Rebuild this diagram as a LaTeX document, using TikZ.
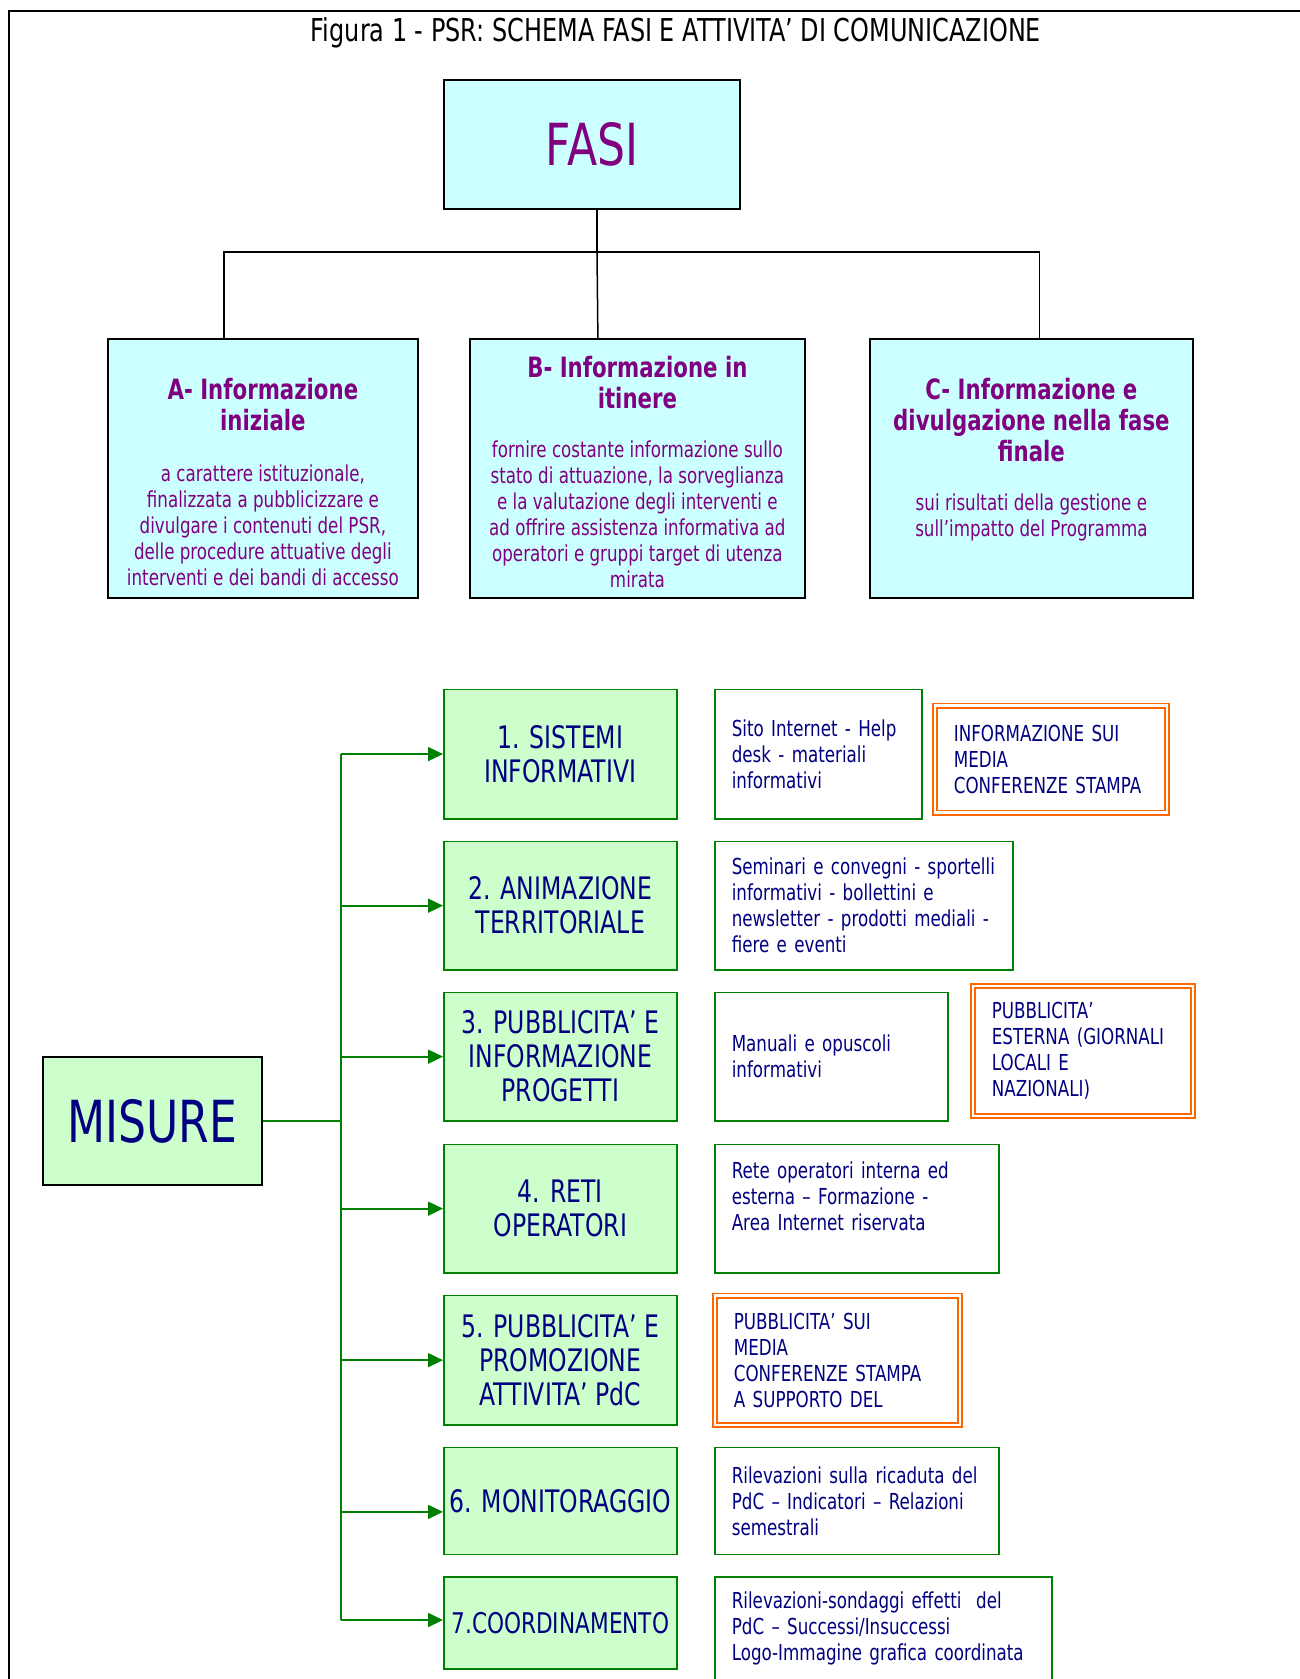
\documentclass[tikz,border=0pt]{standalone}
\usepackage{fontspec}
\setmainfont{DejaVu Sans}[FakeStretch=0.76]
\usepackage{tikz}
\usetikzlibrary{positioning,arrows.meta,calc}

\definecolor{myviolet}{RGB}{128,0,128}
\definecolor{mynavy}{RGB}{0,0,128}
\definecolor{mycyan}{RGB}{204,255,255}
\definecolor{mylightgreen}{RGB}{204,255,204}
\definecolor{mygreen}{RGB}{0,128,0}
\definecolor{myorange}{RGB}{255,102,0}

\tikzstyle{fase}=[draw=black,line width=1.8pt,fill=mycyan,anchor=north west,inner sep=0pt]
\tikzstyle{titfase}=[anchor=north,inner sep=0pt,align=center,text=myviolet,font=\bfseries\fontsize{28}{31}\selectfont]
\tikzstyle{txtfase}=[anchor=north,inner sep=0pt,align=center,text=myviolet,font=\fontsize{22}{26}\selectfont]
\tikzstyle{misura}=[draw=mygreen,line width=1.6pt,fill=mylightgreen,anchor=north west,inner sep=0pt,minimum width=233pt,text=mynavy,align=center,font=\fontsize{31}{34}\selectfont]
\tikzstyle{attivita}=[draw=mygreen,line width=1.6pt,fill=white,anchor=north west,inner xsep=17pt,inner ysep=0pt,text=mynavy,align=left,font=\fontsize{22}{26}\selectfont]
\tikzstyle{media}=[draw=myorange,line width=1.8pt,double=white,double distance=2.4pt,fill=white,anchor=north west,inner xsep=19pt,inner ysep=0pt,text=mynavy,align=left,font=\fontsize{22}{26}\selectfont]
\tikzstyle{ramo}=[line width=1.5pt,black]
\tikzstyle{freccia}=[line width=1.8pt,mygreen,-{Triangle[length=15pt,width=14pt]}]

\begin{document}
\begin{tikzpicture}[x=1pt,y=-1pt]
\useasboundingbox (0,0) rectangle (1300,1679);

% cornice e titolo
\draw[line width=2pt] (1300,11) -- (9,11) -- (9,1690);
\node[font=\fontsize{31.5}{34}\selectfont] (titolo) at (676,33) {Figura 1 - PSR: SCHEMA FASI E ATTIVITA’ DI COMUNICAZIONE};

% fasi
\node[fase, minimum width=296pt, minimum height=129pt, text=myviolet, font=\fontsize{58}{60}\selectfont] (fasi) at (443,79) {FASI};
\node[fase, minimum width=310pt, minimum height=259pt] (A) at (107,338) {};
\node[fase, minimum width=335pt, minimum height=259pt] (B) at (469,338) {};
\node[fase, minimum width=323pt, minimum height=259pt] (C) at (869,338) {};

\node[titfase, below=40pt of A.north] (Atit) {A- Informazione\\ iniziale};
\node[txtfase, below=34pt of Atit] (Atxt) {a carattere istituzionale,\\ finalizzata a pubblicizzare e\\ divulgare i contenuti del PSR,\\ delle procedure attuative degli\\ interventi e dei bandi di accesso};
\node[titfase, below=18pt of B.north] (Btit) {B- Informazione in\\ itinere};
\node[txtfase, below=32pt of Btit] (Btxt) {fornire costante informazione sullo\\ stato di attuazione, la sorveglianza\\ e la valutazione degli interventi e\\ ad offrire assistenza informativa ad\\ operatori e gruppi target di utenza\\ mirata};
\node[titfase, below=40pt of C.north] (Ctit) {C- Informazione e\\ divulgazione nella fase\\ finale};
\node[txtfase, below=32pt of Ctit] (Ctxt) {sui risultati della gestione e\\ sull’impatto del Programma};

\coordinate (nodo) at (597,252);
\draw[ramo] (fasi.south -| nodo) -- (nodo);
\draw[ramo] ([xshift=-39pt]A.north) |- (nodo) -| ([xshift=8pt]C.north);
\draw[ramo] ([xshift=-39.5pt]B.north) -- (nodo);

% misure
\node[fase, fill=mylightgreen, minimum width=219pt, minimum height=128pt, text=mynavy, font=\fontsize{58}{60}\selectfont] (misure) at (42,1056) {MISURE};

\node[misura, minimum height=129.5pt] (m1) at (443,688.5) {1. SISTEMI\\ INFORMATIVI};
\node[misura, minimum height=128.5pt] (m2) at (443,840.6) {2. ANIMAZIONE\\ TERRITORIALE};
\node[misura, minimum height=128.5pt] (m3) at (443,991.6) {3. PUBBLICITA’ E\\ INFORMAZIONE\\ PROGETTI};
\node[misura, minimum height=128.5pt] (m4) at (443,1143.6) {4. RETI\\ OPERATORI};
\node[misura, minimum height=129.5pt] (m5) at (443,1294.6) {5. PUBBLICITA’ E\\ PROMOZIONE\\ ATTIVITA’ PdC};
\node[misura, minimum height=107pt] (m6) at (443,1446.6) {6. MONITORAGGIO};
\node[misura, minimum height=92pt, font=\fontsize{28.5}{34}\selectfont] (m7) at (443,1576.2) {7.COORDINAMENTO};

\draw[mygreen, line width=1.8pt] (misure.east) -- ++(78,0) coordinate (tronco);
\draw[mygreen, line width=1.8pt] (tronco |- m1.west) -- ($(tronco |- m7.west)+(0,-3)$);
\draw[freccia] (tronco |- m1.west) -- (m1.west);
\draw[freccia] (tronco |- m2.west) -- (m2.west);
\draw[freccia] (tronco |- m3.west) -- (m3.west);
\draw[freccia] (tronco |- m4.west) -- (m4.west);
\draw[freccia] (tronco |- m5.west) -- (m5.west);
\draw[freccia] ($(tronco |- m6.west)+(0,11)$) -- ($(m6.west)+(0,11)$);
\draw[freccia] ($(tronco |- m7.west)+(0,-3)$) -- ($(m7.west)+(0,-3)$);

% attivita
\node[attivita, text width=173pt, minimum height=129.5pt] (r1) at (714,688.5) {Sito Internet - Help\\ desk - materiali\\ informativi};
\node[attivita, text width=264pt, minimum height=128.5pt] (r2) at (714,840.6) {Seminari e convegni - sportelli\\ informativi - bollettini e\\ newsletter - prodotti mediali -\\ fiere e eventi};
\node[attivita, text width=199pt, minimum height=128.5pt] (r3) at (714,991.6) {Manuali e opuscoli\\ informativi};
\node[attivita, text width=250pt, minimum height=128.5pt] (r4) at (714,1143.6) {Rete operatori interna ed\\ esterna – Formazione -\\ Area Internet riservata\\ \mbox{}};
\node[attivita, text width=250pt, minimum height=107pt] (r6) at (714,1446.6) {Rilevazioni sulla ricaduta del\\ PdC – Indicatori – Relazioni\\ semestrali};
\node[attivita, text width=303pt, minimum height=150pt] (r7) at (714,1576.2) {Rilevazioni-sondaggi effetti\ \ del\\ PdC – Successi/Insuccessi\\ Logo-Immagine grafica coordinata\\ \mbox{}\\ \mbox{}};

% media
\node[media, text width=194pt, minimum height=107pt] (o1) at (934,704.6) {INFORMAZIONE SUI\\ MEDIA\\ CONFERENZE STAMPA};
\node[media, text width=182pt, minimum height=130pt] (o3) at (972,985) {PUBBLICITA’\\ ESTERNA (GIORNALI\\ LOCALI E\\ NAZIONALI)};
\node[media, text width=207pt, minimum height=129.5pt] (o5) at (714,1294.6) {PUBBLICITA’ SUI\\ MEDIA\\ CONFERENZE STAMPA\\ A SUPPORTO DEL};

\end{tikzpicture}
\end{document}
